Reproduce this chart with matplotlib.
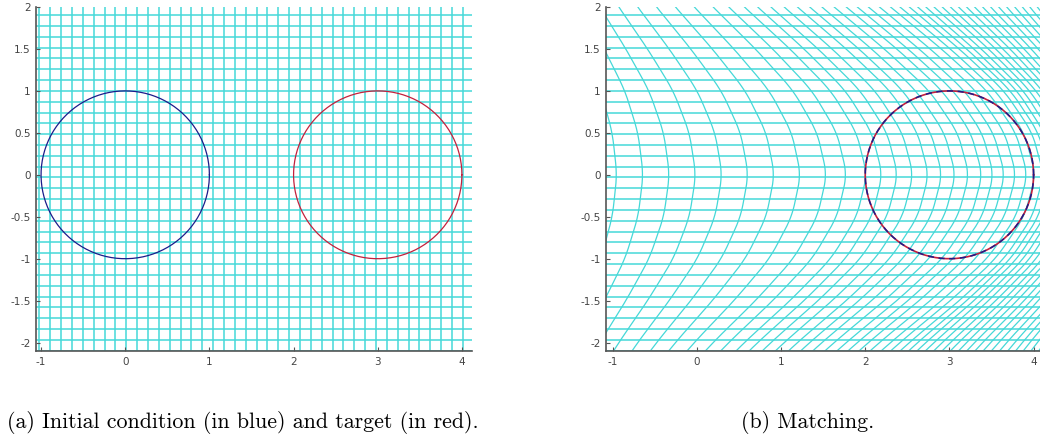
import numpy as np
import matplotlib.pyplot as plt

# tick marks and labels
x_ticks = [-1, 0, 1, 2, 3, 4]
x_tick_labels = ['-1', '0', '1', '2', '3', '4']
y_ticks = [-2, -1.5, -1, -0.5, 0, 0.5, 1, 1.5, 2]
y_tick_labels = ['-2', '-1.5', '-1', '-0.5', '0', '0.5', '1', '1.5', '2']

# regular grid of the initial condition
grid_step = 0.129
grid_x0 = -1.02 + grid_step * np.arange(-40, 90)
grid_y0 = 1.0 + grid_step * np.arange(-30, 30)

# circles: initial (blue) and target (red)
circle_start = (0.0, 0.0)
circle_target = (3.0, 0.0)
circle_radius = 1.0

# horizontal displacement of the grid columns along y = 0
warp_x0 = [-5.0, -4.0, -3.0, -2.31, -1.79, -1.28, -1.02, -0.5, 0.0, 0.53, 0.8, 1.5, 2.5, 3.5, 5.0, 7.0, 9.0]
warp_u = [0.0, 0.15, 0.7, 1.36, 2.10, 2.82, 3.04, 3.26, 3.38, 3.40, 3.33, 3.0, 2.5, 1.9, 1.0, 0.3, 0.0]
# share of that displacement left at height y
warp_y = [-3.5, -3.0, -2.5, -2.0, -1.5, -1.0, -0.5, 0.0, 0.5, 1.0, 1.5, 2.0, 2.5, 3.0, 3.5]
warp_w = [0.12, 0.22, 0.36, 0.52, 0.70, 0.86, 0.96, 1.0, 0.96, 0.86, 0.70, 0.52, 0.36, 0.22, 0.12]

captions = ['(a) Initial condition (in blue) and target (in red).',
            '(b) Matching.']

grid_color = '#45d8d8'
blue = '#1c1c8a'
red = '#c4203c'


def smooth(v, n=15):
    pad = np.pad(v, n, mode='edge')
    return np.convolve(pad, np.ones(2 * n + 1) / (2 * n + 1), mode='same')[n:-n]


def warp(x, y):
    x = np.asarray(x, dtype=float)
    y = np.asarray(y, dtype=float)
    return x + np.interp(y, warp_y, warp_w) * np.interp(x, warp_x0, warp_u)


def style(ax):
    ax.set_xlim(-1.06, 4.12)
    ax.set_ylim(-2.1, 2.0)
    ax.set_xticks(x_ticks)
    ax.set_xticklabels(x_tick_labels)
    ax.set_yticks(y_ticks)
    ax.set_yticklabels(y_tick_labels)
    for s in ['top', 'right']:
        ax.spines[s].set_visible(False)
    for s in ['left', 'bottom']:
        ax.spines[s].set_color('#555555')
        ax.spines[s].set_linewidth(1.2)
    ax.tick_params(direction='in', length=3, width=0.8, color='#555555',
                   labelsize=7.5, labelcolor='#444444', pad=4)


fig = plt.figure(figsize=(10.4, 4.37), dpi=100)
ax_a = fig.add_axes([36 / 1040, 86 / 437, 436 / 1040, 344 / 437])
ax_b = fig.add_axes([606 / 1040, 86 / 437, 436 / 1040, 344 / 437])

theta = np.linspace(0, 2 * np.pi, 200)

# (a) initial grid and the two circles
for gx in grid_x0:
    ax_a.plot([gx, gx], [-2.1, 2.0], color=grid_color, lw=1.1, zorder=1)
for gy in grid_y0:
    ax_a.plot([-1.06, 4.2], [gy, gy], color=grid_color, lw=1.1, zorder=1)
ax_a.plot(circle_start[0] + circle_radius * np.cos(theta),
          circle_start[1] + circle_radius * np.sin(theta), color=blue, lw=0.9, zorder=3)
ax_a.plot(circle_target[0] + circle_radius * np.cos(theta),
          circle_target[1] + circle_radius * np.sin(theta), color=red, lw=0.9, zorder=3)
style(ax_a)

# (b) deformed grid and matched circle
ys = np.linspace(-3, 3, 601)
for gx in grid_x0:
    ax_b.plot(smooth(warp(np.full_like(ys, gx), ys)), ys, color=grid_color, lw=0.9, zorder=1)
for gy in grid_y0:
    ax_b.plot([-1.2, 4.2], [gy, gy], color=grid_color, lw=1.1, zorder=1)
ax_b.plot(circle_target[0] + circle_radius * np.cos(theta),
          circle_target[1] + circle_radius * np.sin(theta), color=red, lw=1.2, zorder=3)
ax_b.plot(circle_target[0] + circle_radius * np.cos(theta),
          circle_target[1] + circle_radius * np.sin(theta), color=blue, lw=1.1,
          ls=(0, (4, 3)), zorder=4)
style(ax_b)
ax_b.set_xlim(-1.08, 4.10)

fig.text(243 / 1040, 15 / 437, captions[0], family='cmr10', fontsize=15.8,
         ha='center', va='center')
fig.text(808 / 1040, 15 / 437, captions[1], family='cmr10', fontsize=15.8,
         ha='center', va='center')

fig.savefig('out.png', dpi=100)
